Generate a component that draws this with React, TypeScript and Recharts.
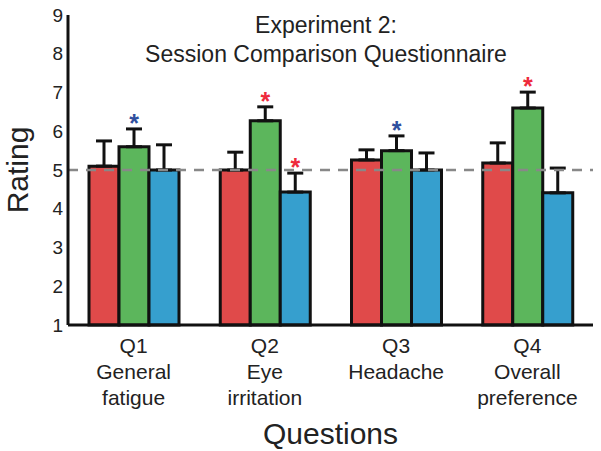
import {
  BarChart,
  Bar,
  XAxis,
  YAxis,
  ErrorBar,
  LabelList,
  ReferenceLine,
  Label,
} from "recharts";

const questions = ["Q1", "Q2", "Q3", "Q4"];
const questionNames = [
  ["General", "fatigue"],
  ["Eye", "irritation"],
  ["Headache"],
  ["Overall", "preference"],
];

const redValues = [5.1, 5.0, 5.26, 5.18];
const redErrors = [0.65, 0.46, 0.26, 0.52];
const greenValues = [5.6, 6.27, 5.5, 6.6];
const greenErrors = [0.46, 0.36, 0.38, 0.41];
const blueValues = [5.0, 4.43, 5.0, 4.41];
const blueErrors = [0.65, 0.49, 0.44, 0.64];

// significance markers (asterisk colour) per bar, null = none
const greenStars = ["blue", "red", "blue", "red"];
const blueStars = [null, "red", null, null];

const yTicks = [1, 2, 3, 4, 5, 6, 7, 8, 9];

const FONT = "'Liberation Sans', Arial, Helvetica, sans-serif";
const starColors: Record<string, string> = { red: "#ee2a3c", blue: "#2f4f9e" };

const data = questions.map((q, i) => ({
  q,
  red: redValues[i],
  redErr: [0, redErrors[i]],
  green: greenValues[i],
  greenErr: [0, greenErrors[i]],
  blue: blueValues[i],
  blueErr: [0, blueErrors[i]],
}));

function QuestionTick(props: any) {
  const { x, y, payload } = props;
  const i = questions.indexOf(payload.value);
  const lines = [payload.value, ...(questionNames[i] || [])];
  return (
    <g>
      {lines.map((t, k) => (
        <text
          key={k}
          x={x}
          y={y + 20 + k * 26}
          textAnchor="middle"
          fontSize={21}
          fontFamily={FONT}
          fill="#222"
        >
          {t}
        </text>
      ))}
    </g>
  );
}

const starLabel =
  (stars: (string | null)[], errs: number[]) => (props: any) => {
    const { x, y, width, height, value, index } = props;
    const c = stars[index];
    if (!c) return null;
    const ppu = height / (value - 1);
    const cy = y - errs[index] * ppu - 11;
    return (
      <text
        x={x + width / 2}
        y={cy + 14}
        textAnchor="middle"
        fontSize={25}
        fontWeight="bold"
        fontFamily={FONT}
        fill={starColors[c]}
      >
        *
      </text>
    );
  };

export default function App() {
  return (
    <div style={{ position: "absolute", left: 0, top: 0, width: 601, height: 451, background: "#fff" }}>
      <BarChart
        width={601}
        height={451}
        data={data}
        margin={{ top: 15, right: 8, bottom: 0, left: 0 }}
        barCategoryGap={21}
        barGap={0}
      >
        <YAxis
          width={68}
          domain={[1, 9]}
          ticks={yTicks}
          interval={0}
          tickLine={false}
          tickSize={3}
          tickMargin={2}
          axisLine={{ stroke: "#111", strokeWidth: 3 }}
          tick={{ fontSize: 19, fill: "#222", fontFamily: FONT }}
        >
          <Label
            content={({ viewBox }: any) => (
              <text
                transform={`translate(28,${viewBox.y + viewBox.height / 2}) rotate(-90)`}
                textAnchor="middle"
                fontSize={30}
                fontFamily={FONT}
                fill="#222"
              >
                Rating
              </text>
            )}
          />
        </YAxis>
        <XAxis
          dataKey="q"
          height={126}
          tickLine={false}
          axisLine={{ stroke: "#111", strokeWidth: 3 }}
          tick={<QuestionTick />}
          interval={0}
        >
          <Label
            content={({ viewBox }: any) => (
              <text
                x={viewBox.x + viewBox.width / 2}
                y={444}
                textAnchor="middle"
                fontSize={30}
                fontFamily={FONT}
                fill="#222"
              >
                Questions
              </text>
            )}
          />
        </XAxis>
        <Bar dataKey="red" fill="#e04a4a" stroke="#111" strokeWidth={3} isAnimationActive={false}>
          <ErrorBar dataKey="redErr" direction="y" width={8} stroke="#111" strokeWidth={3} />
        </Bar>
        <Bar dataKey="green" fill="#5cb65c" stroke="#111" strokeWidth={3} isAnimationActive={false}>
          <ErrorBar dataKey="greenErr" direction="y" width={8} stroke="#111" strokeWidth={3} />
          <LabelList dataKey="green" content={starLabel(greenStars, greenErrors)} />
        </Bar>
        <Bar dataKey="blue" fill="#369fce" stroke="#111" strokeWidth={3} isAnimationActive={false}>
          <ErrorBar dataKey="blueErr" direction="y" width={8} stroke="#111" strokeWidth={3} />
          <LabelList dataKey="blue" content={starLabel(blueStars, blueErrors)} />
        </Bar>
        <ReferenceLine y={5} stroke="#888" strokeWidth={2.5} strokeDasharray="10 8" />
      </BarChart>
      <svg
        width={601}
        height={80}
        style={{ position: "absolute", left: 0, top: 0, pointerEvents: "none" }}
      >
        <text x={326} y={33} textAnchor="middle" fontSize={23} fontFamily={FONT} fill="#222">
          Experiment 2:
        </text>
        <text x={326} y={62} textAnchor="middle" fontSize={23} fontFamily={FONT} fill="#222">
          Session Comparison Questionnaire
        </text>
      </svg>
    </div>
  );
}
